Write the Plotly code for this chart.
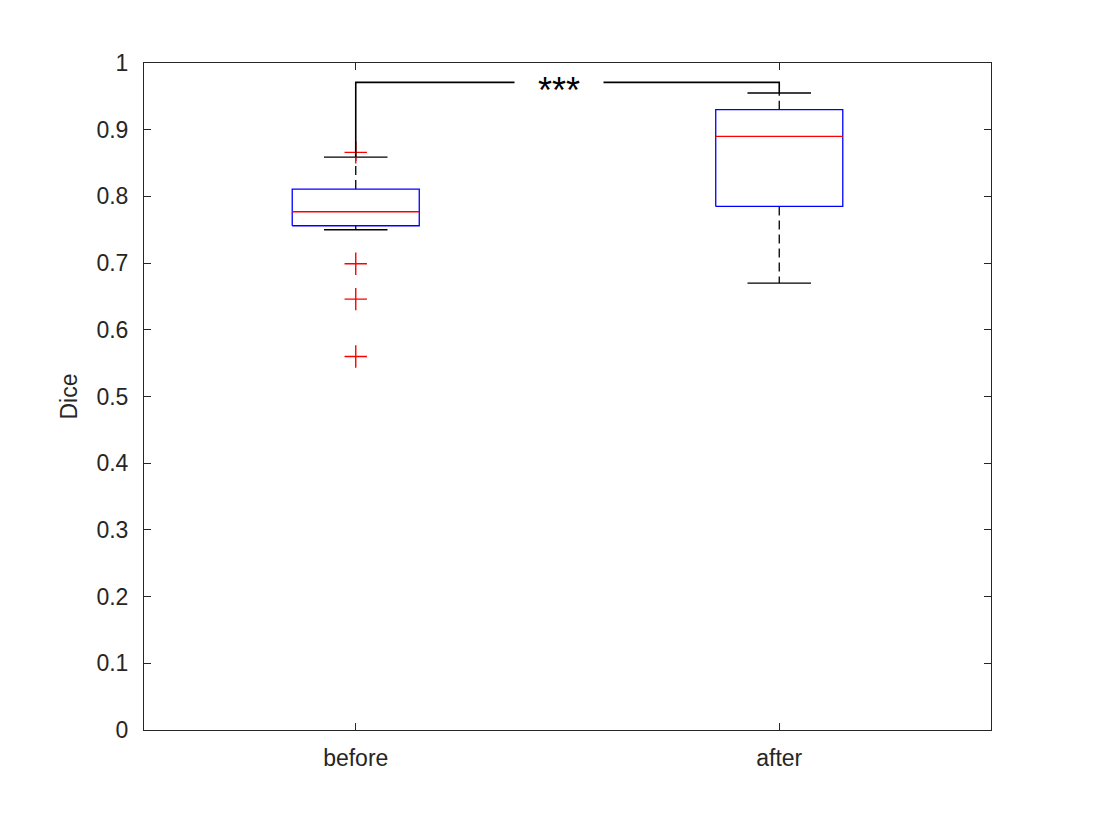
import plotly.graph_objects as go

# box statistics (Dice score)
groups = ['before', 'after']
positions = [1, 2]
q1 = [0.756, 0.785]
medians = [0.777, 0.890]
q3 = [0.811, 0.930]
whisker_low = [0.750, 0.670]
whisker_high = [0.859, 0.955]
outliers = [[0.866, 0.699, 0.646, 0.560], []]

# significance bracket
sig_text = '***'
sig_y = 0.971

y_ticks = [0, 0.1, 0.2, 0.3, 0.4, 0.5, 0.6, 0.7, 0.8, 0.9, 1]
y_ticktext = ['0', '0.1', '0.2', '0.3', '0.4', '0.5', '0.6', '0.7', '0.8', '0.9', '1']

BOX_W = 0.3
CAP_W = 0.15
AXIS_COLOR = '#262626'
FONT = 'Liberation Sans, Arial, sans-serif'

fig = go.Figure()

for i, pos in enumerate(positions):
    # whiskers (dashed)
    fig.add_trace(go.Scatter(x=[pos, pos, None, pos, pos],
                             y=[q3[i], whisker_high[i], None, q1[i], whisker_low[i]],
                             mode='lines', line=dict(color='black', width=1.3, dash='9px,5px'),
                             hoverinfo='skip', showlegend=False))
    # whisker caps
    fig.add_trace(go.Scatter(x=[pos - CAP_W / 2, pos + CAP_W / 2, None, pos - CAP_W / 2, pos + CAP_W / 2],
                             y=[whisker_high[i], whisker_high[i], None, whisker_low[i], whisker_low[i]],
                             mode='lines', line=dict(color='black', width=1.3),
                             hoverinfo='skip', showlegend=False))
    # box
    fig.add_trace(go.Scatter(x=[pos - BOX_W / 2, pos + BOX_W / 2, pos + BOX_W / 2, pos - BOX_W / 2, pos - BOX_W / 2],
                             y=[q1[i], q1[i], q3[i], q3[i], q1[i]],
                             mode='lines', line=dict(color='#0000ff', width=1.3),
                             fill='toself', fillcolor='white',
                             hoverinfo='skip', showlegend=False))
    # median
    fig.add_trace(go.Scatter(x=[pos - BOX_W / 2, pos + BOX_W / 2],
                             y=[medians[i], medians[i]],
                             mode='lines', line=dict(color='#ff0000', width=1.3),
                             hoverinfo='skip', showlegend=False))
    # outliers
    if outliers[i]:
        fig.add_trace(go.Scatter(x=[pos] * len(outliers[i]), y=outliers[i], mode='markers',
                                 marker=dict(symbol='cross-thin-open', size=16, color='#ff0000',
                                             line=dict(color='#ff0000', width=1.4)),
                                 showlegend=False))

# significance bracket
fig.add_trace(go.Scatter(x=[positions[0], positions[0], positions[1], positions[1]],
                         y=[whisker_high[0], sig_y, sig_y, whisker_high[1]],
                         mode='lines', line=dict(color='black', width=1.6),
                         hoverinfo='skip', showlegend=False))
# white gap in the bracket line behind the stars
fig.add_annotation(x=sum(positions) / 2, y=sig_y, text='', showarrow=False,
                   bgcolor='white', width=86, height=6, xshift=-9)
fig.add_annotation(x=sum(positions) / 2, y=sig_y, text=sig_text, showarrow=False,
                   font=dict(family=FONT, size=36, color='black'),
                   bgcolor='rgba(0,0,0,0)', xshift=-9, yshift=-8)

axis_common = dict(showline=True, linecolor=AXIS_COLOR, linewidth=1, mirror='ticks',
                   ticks='inside', ticklen=7, tickcolor=AXIS_COLOR, showgrid=False,
                   zeroline=False, tickfont=dict(family=FONT, size=23, color=AXIS_COLOR))

fig.update_xaxes(range=[0.5, 2.5], tickvals=positions, ticktext=groups,
                 ticklabelstandoff=7, **axis_common)
fig.update_yaxes(range=[0, 1], tickvals=y_ticks, ticktext=y_ticktext, ticklabelstandoff=10,
                 title=dict(text='Dice', font=dict(family=FONT, size=23, color=AXIS_COLOR), standoff=12),
                 **axis_common)

fig.update_layout(width=1094, height=821, plot_bgcolor='white', paper_bgcolor='white',
                  margin=dict(l=136, r=111, t=55, b=99, autoexpand=False))

fig.write_html("out.html")
